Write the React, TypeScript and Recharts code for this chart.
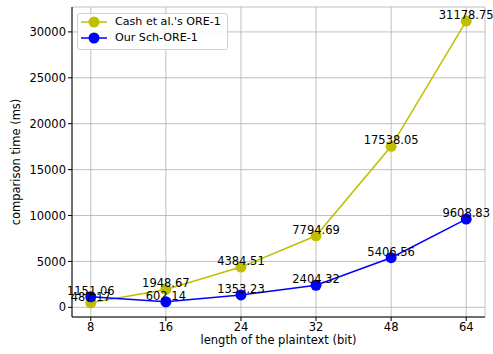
import {
  LineChart,
  Line,
  XAxis,
  YAxis,
  CartesianGrid,
  ReferenceDot,
} from "recharts";

// ─────────────────────────────────────────
// DATA
// ─────────────────────────────────────────

const bitLengths = ["8", "16", "24", "32", "48", "64"];
const cashOre = [487.17, 1948.67, 4384.51, 7794.69, 17538.05, 31178.75];
const ourSchOre = [1151.06, 602.14, 1353.23, 2404.32, 5406.56, 9608.83];
const yTicks = [0, 5000, 10000, 15000, 20000, 25000, 30000];

const data = bitLengths.map((b, i) => ({
  idx: i,
  bits: b,
  cash: cashOre[i],
  sch: ourSchOre[i],
}));

const FONT = "'DejaVu Sans', sans-serif";
const YELLOW = "#bfbf00";
const BLUE = "#0000ff";

const legendItems = [
  { name: "Cash et al.'s ORE-1", color: YELLOW },
  { name: "Our Sch-ORE-1", color: BLUE },
];

const LegendBox = () => (
  <div
    style={{
      position: "absolute",
      left: 77,
      top: 13,
      border: "1px solid #d0d0d0",
      borderRadius: 3,
      background: "rgba(255,255,255,0.85)",
      padding: "0px 6px 3px 3px",
      fontFamily: FONT,
      fontSize: 11.1,
      lineHeight: "16px",
      whiteSpace: "nowrap",
    }}
  >
    {legendItems.map((e) => (
      <div key={e.name} style={{ display: "flex", alignItems: "center", height: 16 }}>
        <svg width={26} height={14} style={{ marginRight: 8 }}>
          <line x1={0} y1={7} x2={26} y2={7} stroke={e.color} strokeWidth={1.5} />
          <circle cx={13} cy={7} r={5.5} fill={e.color} />
        </svg>
        <span>{e.name}</span>
      </div>
    ))}
  </div>
);

const YLabel = (props: any) => {
  const { viewBox } = props;
  const cy = viewBox.y + viewBox.height / 2;
  return (
    <text
      x={16}
      y={cy}
      transform={`rotate(-90, 16, ${cy})`}
      textAnchor="middle"
      dominantBaseline="central"
      fontSize={11.5}
      fontFamily={FONT}
      fill="#000"
    >
      comparison time (ms)
    </text>
  );
};

// value text drawn just above a marker (not clipped by the plot area)
const valueShape = (value: number) => (props: any) => (
  <text
    x={props.cx}
    y={props.cy - 2}
    textAnchor="middle"
    fontSize={11.5}
    fontFamily={FONT}
    fill="#000"
  >
    {value.toFixed(2)}
  </text>
);

export default function App() {
  const tickStyle = { fontSize: 11.5, fill: "#000", fontFamily: FONT };
  return (
    <div
      style={{
        position: "absolute",
        left: 0,
        top: 0,
        background: "#fff",
        width: 493,
        height: 354,
      }}
    >
      <LineChart
        width={493}
        height={354}
        data={data}
        margin={{ top: 7, right: 8, bottom: 0, left: 0 }}
        style={{ overflow: "visible" }}
      >
        <CartesianGrid stroke="#b0b0b0" strokeWidth={0.8} yAxisId="left" xAxisId="bottom" />
        <XAxis
          xAxisId="bottom"
          dataKey="idx"
          type="number"
          domain={[-0.25, 5.25]}
          ticks={[0, 1, 2, 3, 4, 5]}
          tickFormatter={(v: number) => bitLengths[v]}
          tick={tickStyle}
          tickSize={4}
          tickMargin={2}
          stroke="#000"
          height={37}
          label={{
            value: "length of the plaintext (bit)",
            position: "insideBottom",
            offset: 10,
            style: { fontSize: 11.5, fill: "#000", fontFamily: FONT },
          }}
        />
        <XAxis
          xAxisId="top"
          orientation="top"
          dataKey="idx"
          type="number"
          domain={[-0.25, 5.25]}
          tick={false}
          tickLine={false}
          stroke="#000"
          height={0}
        />
        <YAxis
          yAxisId="left"
          type="number"
          domain={[-1054, 32713]}
          ticks={yTicks}
          tick={tickStyle}
          tickSize={4}
          tickMargin={2}
          stroke="#000"
          width={72}
          label={<YLabel />}
        />
        <YAxis
          yAxisId="right"
          orientation="right"
          domain={[-1054, 32713]}
          tick={false}
          tickLine={false}
          stroke="#000"
          width={0}
        />
        <Line
          xAxisId="bottom"
          yAxisId="left"
          dataKey="cash"
          stroke={YELLOW}
          strokeWidth={1.5}
          dot={{ r: 5.5, fill: YELLOW, stroke: YELLOW, strokeWidth: 0 }}
          isAnimationActive={false}
        />
        <Line
          xAxisId="bottom"
          yAxisId="left"
          dataKey="sch"
          stroke={BLUE}
          strokeWidth={1.5}
          dot={{ r: 5.5, fill: BLUE, stroke: BLUE, strokeWidth: 0 }}
          isAnimationActive={false}
        />
        {data.map((d) => (
          <ReferenceDot
            key={`c${d.idx}`}
            xAxisId="bottom"
            yAxisId="left"
            x={d.idx}
            y={d.cash}
            r={0}
            ifOverflow="visible"
            shape={valueShape(d.cash)}
          />
        ))}
        {data.map((d) => (
          <ReferenceDot
            key={`s${d.idx}`}
            xAxisId="bottom"
            yAxisId="left"
            x={d.idx}
            y={d.sch}
            r={0}
            ifOverflow="visible"
            shape={valueShape(d.sch)}
          />
        ))}
      </LineChart>
      <LegendBox />
    </div>
  );
}
